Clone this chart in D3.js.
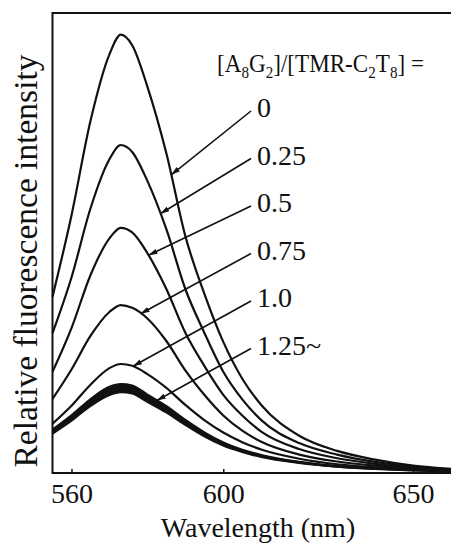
<!DOCTYPE html>
<html><head><meta charset="utf-8">
<script src="https://cdn.jsdelivr.net/npm/d3@7"></script>
<style>html,body{margin:0;padding:0;background:#fff;}svg{display:block;}</style>
</head><body>
<svg id="c" width="451" height="544"></svg>
<script>
const wavelengths = [555,560,565,570,573,576,580,585,590,595,600,605,610,620,630,640,650,660];
const ratioLabels = ["0","0.25","0.5","0.75","1.0","1.25~"];
const s0    = [38.3,56.0,76.5,91.0,95.3,93.0,84.0,69.5,51.5,39.0,28.5,20.5,14.8,8.1,4.8,2.9,1.6,0.9];
const s025  = [30.4,42.5,57.5,68.2,71.3,69.8,63.5,53.0,40.0,30.5,22.0,16.0,11.5,6.5,4.0,2.4,1.4,0.8];
const s05   = [22.0,31.5,43.0,51.0,53.3,52.3,47.8,40.0,30.5,23.3,17.0,12.5,9.0,5.2,3.2,2.0,1.2,0.7];
const s075  = [16.1,22.5,29.8,35.0,36.5,35.9,33.6,28.7,22.3,17.0,12.5,9.2,6.8,4.0,2.5,1.6,1.0,0.6];
const s10   = [10.7,14.6,19.2,22.8,23.7,23.3,21.5,18.5,14.8,11.5,8.8,6.7,5.1,3.1,1.9,1.25,0.8,0.45];
const s125a = [9.4,12.5,16.0,18.7,19.3,19.0,17.0,14.5,11.5,8.8,6.6,5.0,3.9,2.4,1.5,1.0,0.7,0.4];
const s125b = [9.0,11.9,15.3,17.9,18.4,18.1,16.2,13.8,11.0,8.4,6.3,4.8,3.7,2.3,1.4,0.95,0.65,0.4];
const s125c = [8.6,11.4,14.6,17.0,17.6,17.3,15.5,13.2,10.5,8.0,6.0,4.6,3.5,2.2,1.4,0.9,0.6,0.35];
const xTicks = [560,600,650];
// wavelength where each label's arrow touches its curve
const arrowAt = [586.3,583.4,580.3,578.2,576.2,582.5];

const thinSeries = [s0,s025,s05,s075,s10];
const bandSeries = [s125a,s125b,s125c];
const labelledSeries = [s0,s025,s05,s075,s10,s125a];

const svg = d3.select("#c");
const FONT = "'Liberation Serif','Times New Roman',serif";
const x = d3.scaleLinear().domain([555,660]).range([52.5,451]);
const y = d3.scaleLinear().domain([0,100]).range([473,13]);

// frame: left, top, bottom
svg.append("path").attr("d","M451,13H52.5V473H451").attr("fill","none").attr("stroke","#111").attr("stroke-width",2);

// x axis ticks (inward) and labels
const xa = d3.axisBottom(x).tickValues(xTicks).tickSize(-4).tickPadding(10).tickFormat(d3.format("d"));
const g = svg.append("g").attr("transform","translate(0,473)").call(xa);
g.select(".domain").remove();
g.selectAll("line").attr("stroke","#111").attr("stroke-width",1.5);
g.selectAll("text").attr("font-family",FONT).attr("font-size",28).attr("fill","#111");

svg.append("text").attr("x",258).attr("y",537).attr("text-anchor","middle")
  .attr("font-family",FONT).attr("font-size",28).attr("fill","#111").text("Wavelength (nm)");
svg.append("text").attr("transform","translate(37,261) rotate(-90)").attr("text-anchor","middle")
  .attr("font-family",FONT).attr("font-size",33.5).attr("fill","#111").text("Relative fluorescence intensity");

// curves
const line = d3.line().x((d,i)=>x(wavelengths[i])).y(d=>y(d)).curve(d3.curveMonotoneX);
const area = d3.area().x((d,i)=>x(wavelengths[i])).y0((d,i)=>y(s125c[i])).y1(d=>y(d)).curve(d3.curveMonotoneX);
svg.append("path").attr("d",area(s125a)).attr("fill","#111");
svg.append("g").selectAll("path").data(bandSeries).join("path")
  .attr("d",d=>line(d)).attr("fill","none").attr("stroke","#111").attr("stroke-width",2.4);
svg.append("g").selectAll("path").data(thinSeries).join("path")
  .attr("d",d=>line(d)).attr("fill","none").attr("stroke","#111").attr("stroke-width",2.2);

// legend title (horizontally scaled to the reference width)
const tg = svg.append("g");
const t = tg.append("text").attr("x",0).attr("y",0).attr("font-family",FONT).attr("font-size",26).attr("fill","#111");
const parts = [["[A",0],["8",1],["G",0],["2",1],["]/[TMR-C",0],["2",1],["T",0],["8",1],["] =",0]];
parts.forEach(([s,sub],i)=>{
  const prevSub = i>0 && parts[i-1][1];
  t.append("tspan").attr("font-size",sub?17:26).attr("dy",sub?6:(prevSub?-6:0)).text(s);
});
const tw = t.node().getBBox().width;
const sx = Math.min(1, 207/tw);
tg.attr("transform",`translate(217,72) scale(${sx},1)`);

// arrows
svg.append("defs").append("marker").attr("id","ah").attr("viewBox","0 0 10 10")
  .attr("refX",10).attr("refY",5).attr("markerWidth",9).attr("markerHeight",9).attr("markerUnits","userSpaceOnUse")
  .attr("orient","auto").append("path").attr("d","M0,2L10,5L0,8Z").attr("fill","#111");
function interp(arr, w){
  for(let i=0;i<wavelengths.length-1;i++){
    if(w>=wavelengths[i] && w<=wavelengths[i+1]){
      const f=(w-wavelengths[i])/(wavelengths[i+1]-wavelengths[i]);
      return arr[i]+(arr[i+1]-arr[i])*f;
    }
  }
  return arr[arr.length-1];
}
const labelX = 257, labelY0 = 117, labelDy = 47.5;
ratioLabels.forEach((lab,i)=>{
  const ly = labelY0 + i*labelDy;
  svg.append("text").attr("x",labelX).attr("y",ly).attr("font-family",FONT).attr("font-size",28).attr("fill","#111").text(lab);
  svg.append("line").attr("x1",labelX-6).attr("y1",ly-6)
    .attr("x2",x(arrowAt[i])).attr("y2",y(interp(labelledSeries[i],arrowAt[i])))
    .attr("stroke","#111").attr("stroke-width",1.6).attr("marker-end","url(#ah)");
});
</script>
</body></html>
